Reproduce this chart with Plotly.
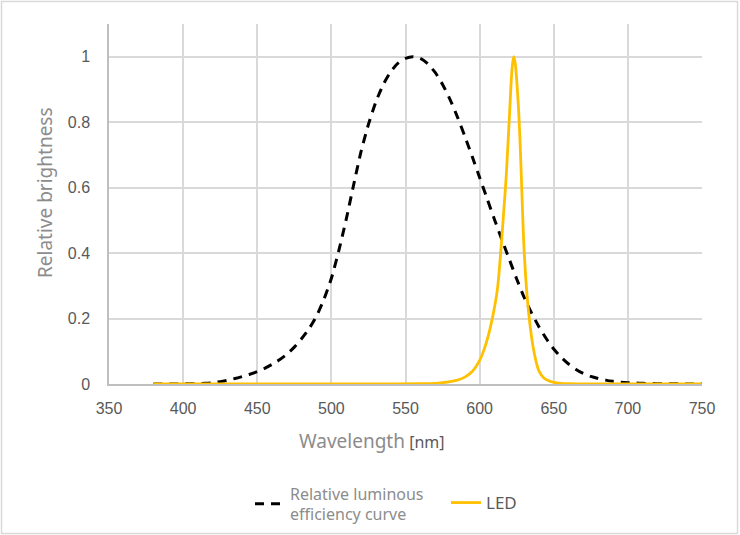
import plotly.graph_objects as go

# Relative luminous efficiency curve (photopic), 5 nm steps
lum_wl = list(range(380, 755, 5))
lum_val = [0.000039, 0.000064, 0.00012, 0.000217, 0.000396, 0.00064, 0.00121, 0.00218,
           0.004, 0.0073, 0.0116, 0.01684, 0.023, 0.0298, 0.038, 0.048, 0.06, 0.0739,
           0.09098, 0.1126, 0.13902, 0.1693, 0.20802, 0.2586, 0.323, 0.4073, 0.503,
           0.6082, 0.71, 0.7932, 0.862, 0.91485, 0.954, 0.9803, 0.99495, 1.0, 0.995,
           0.9786, 0.952, 0.9154, 0.87, 0.8163, 0.757, 0.6949, 0.631, 0.5668, 0.503,
           0.4412, 0.381, 0.321, 0.265, 0.217, 0.175, 0.1382, 0.107, 0.0816, 0.061,
           0.04458, 0.032, 0.0232, 0.017, 0.01192, 0.00821, 0.005723, 0.004102,
           0.002929, 0.002091, 0.001484, 0.001047, 0.00074, 0.00052, 0.000361,
           0.000249, 0.000172, 0.00012]

# LED spectrum
led_wl = [380, 450, 500, 540, 560, 570, 575, 580, 585, 590, 595, 600, 603, 606, 609,
          612, 614, 616, 618, 620, 622, 623, 624, 626, 627, 628, 629, 630, 632, 634,
          636, 638, 640, 643, 647, 650, 655, 660, 670, 700, 750]
led_val = [0, 0, 0, 0.0005, 0.001, 0.002, 0.004, 0.007, 0.012, 0.021, 0.038, 0.072,
           0.105, 0.15, 0.21, 0.29, 0.39, 0.51, 0.64, 0.81, 0.97, 1.0, 0.98, 0.86,
           0.77, 0.65, 0.52, 0.41, 0.27, 0.18, 0.115, 0.07, 0.04, 0.02, 0.009, 0.005,
           0.002, 0.001, 0, 0, 0]

x_ticks = [350, 400, 450, 500, 550, 600, 650, 700, 750]
y_ticks = [0, 0.2, 0.4, 0.6, 0.8, 1]
y_tick_text = ["0", "0.2", "0.4", "0.6", "0.8", "1"]

fig = go.Figure()
fig.add_trace(go.Scatter(
    x=lum_wl, y=lum_val, mode="lines",
    name="Relative luminous<br>efficiency curve", legend="legend",
    line=dict(color="#000000", width=3, dash="9px,7px", shape="spline", smoothing=0.6),
))
fig.add_trace(go.Scatter(
    x=led_wl, y=led_val, mode="lines",
    name="LED", legend="legend2",
    line=dict(color="#FFC000", width=2.8, shape="spline", smoothing=0.9),
))

W, H = 740, 535
ml, mr, mt, mb = 109, 38, 24, 151
pw, ph = W - ml - mr, H - mt - mb

def px(x):
    return (x - ml) / pw

def py(y):
    return (H - mb - y) / ph

fig.update_layout(
    width=W, height=H, autosize=False,
    margin=dict(l=ml, r=mr, t=mt, b=mb, autoexpand=False),
    paper_bgcolor="white", plot_bgcolor="white",
    font=dict(family="Noto Sans", color="#595959"),
    showlegend=True,
    legend=dict(orientation="h", x=px(250), xanchor="left",
                y=py(504), yanchor="middle",
                font=dict(family="Noto Sans", size=16, color="#8c8c8c")),
    legend2=dict(orientation="h", x=px(446), xanchor="left",
                 y=py(503), yanchor="middle",
                 font=dict(family="Noto Sans", size=17, color="#595959")),
    xaxis=dict(range=[350, 750], tickvals=x_ticks, showgrid=True,
               gridcolor="#d9d9d9", gridwidth=1.5, showline=True, linecolor="#bfbfbf",
               linewidth=1.5, zeroline=False, ticks="", tickangle=0, automargin=False,
               tickfont=dict(family="Liberation Sans", size=16, color="#595959"),
               ticklabelstandoff=9),
    yaxis=dict(range=[0, 1.1], tickvals=y_ticks, ticktext=y_tick_text, showgrid=True,
               gridcolor="#d9d9d9", gridwidth=1.5, showline=True, linecolor="#bfbfbf",
               linewidth=1.5, zeroline=False, ticks="", automargin=False,
               tickfont=dict(family="Liberation Sans", size=16, color="#595959"),
               ticklabelstandoff=14),
    annotations=[
        dict(xref="paper", yref="paper", x=px(45), y=py(193), text="Relative brightness",
             textangle=-90, showarrow=False, xanchor="center", yanchor="middle",
             font=dict(family="Noto Sans", size=19, color="#8c8c8c")),
        dict(xref="paper", yref="paper", x=px(372), y=py(441),
             text="Wavelength<span style='font-size:16px;color:#595959'> [nm]</span>",
             showarrow=False, xanchor="center", yanchor="middle",
             font=dict(family="Noto Sans", size=19, color="#8c8c8c")),
    ],
    shapes=[
        dict(type="rect", xref="paper", yref="paper",
             x0=px(1.5), x1=px(737.5), y0=py(533.5), y1=py(1.5),
             line=dict(color="#d9d9d9", width=1.5), fillcolor="rgba(0,0,0,0)", layer="below"),
    ],
)

fig.write_html("out.html")
